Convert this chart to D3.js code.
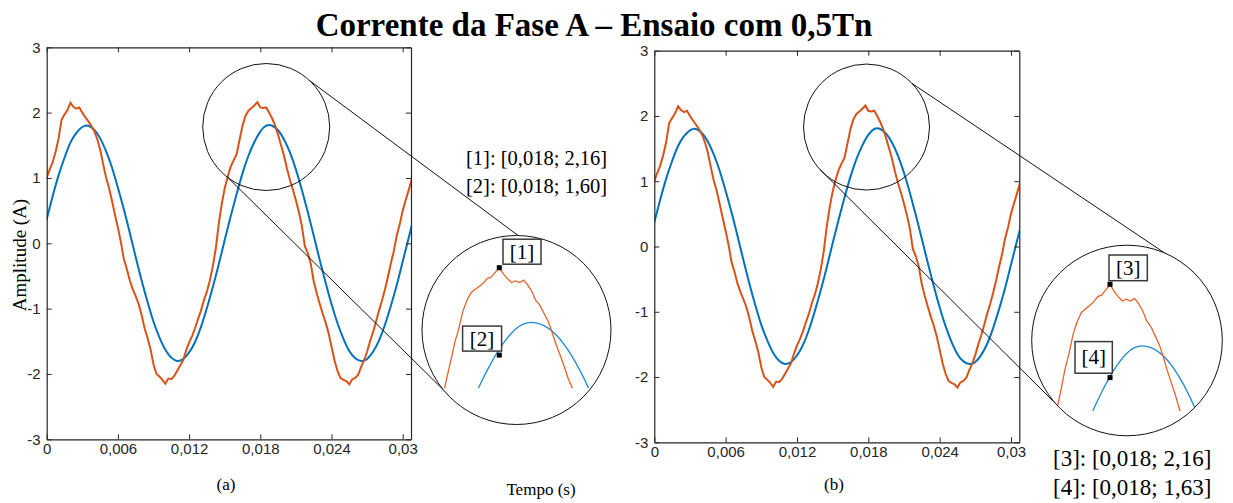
<!DOCTYPE html>
<html lang="pt">
<head>
<meta charset="UTF-8">
<title>Corrente da Fase A</title>
<script src="https://cdn.jsdelivr.net/npm/d3@7"></script>
<style>
  body { margin: 0; background: #fff; }
  svg { display: block; }
  .tick text { font-family: "Liberation Sans", Arial, sans-serif; font-size: 15px; fill: #262626; }
  .tick line, .domain { stroke: #262626; }
  .serif { font-family: "Liberation Serif", "Times New Roman", serif; fill: #000; }
</style>
</head>
<body>
<svg id="chart" width="1233" height="503"></svg>
<script>
// scope samples, time in ms
const orangeStepMs = 0.25;
const orangeA = [
  1.00, 1.13, 1.24, 1.40, 1.60, 1.89, 1.97, 2.04, 2.15, 2.09, 2.06, 2.08, 2.00, 1.93, 1.87, 1.80,
  1.72, 1.60, 1.44, 1.22, 1.01, 0.85, 0.65, 0.44, 0.24, 0.02, -0.24, -0.39, -0.57, -0.70, -0.81, -0.93,
  -1.10, -1.30, -1.45, -1.62, -1.85, -2.00, -2.04, -2.09, -2.15, -2.07, -2.08, -2.03, -1.95, -1.87, -1.79, -1.64,
  -1.52, -1.42, -1.30, -1.16, -1.03, -0.87, -0.74, -0.57, -0.35, -0.08, 0.30, 0.60, 0.84, 1.02, 1.17, 1.27,
  1.36, 1.58, 1.80, 1.95, 2.03, 2.07, 2.11, 2.16, 2.08, 2.07, 2.08, 2.00, 1.91, 1.80, 1.66, 1.50,
  1.34, 1.14, 0.97, 0.82, 0.66, 0.48, 0.27, -0.04, -0.15, -0.31, -0.58, -0.76, -0.92, -1.07, -1.21, -1.37,
  -1.58, -1.79, -1.95, -2.06, -2.09, -2.11, -2.16, -2.08, -2.06, -2.01, -1.89, -1.79, -1.66, -1.50, -1.36, -1.20,
  -1.03, -0.88, -0.71, -0.52, -0.31, -0.12, 0.12, 0.29, 0.50, 0.66, 0.81, 0.97, 1.10
];
const blueStepMs = 0.5;
const blueA = [
  0.37, 0.72, 1.04, 1.31, 1.54, 1.69, 1.78, 1.80, 1.74, 1.61, 1.41, 1.16, 0.85, 0.52, 0.16, -0.21,
  -0.57, -0.90, -1.20, -1.44, -1.63, -1.75, -1.80, -1.77, -1.67, -1.51, -1.28, -0.99, -0.67, -0.32, 0.05, 0.41,
  0.75, 1.07, 1.34, 1.55, 1.71, 1.80, 1.80, 1.73, 1.59, 1.39, 1.13, 0.82, 0.48, 0.12, -0.25, -0.60,
  -0.93, -1.22, -1.46, -1.65, -1.76, -1.80, -1.77, -1.66, -1.49, -1.25, -0.96, -0.64, -0.28, 0.08, 0.44
];
// finer reading of the orange peak, as seen in the zoomed circles
const orangeZoomStartMs = 16;
const orangeZoomStepMs = 0.125;
const orangeZoomA = [
  1.33, 1.45, 1.56, 1.68, 1.77, 1.88, 1.95, 2.00, 2.02, 2.04, 2.06, 2.09, 2.10, 2.13, 2.16, 2.12,
  2.09, 2.065, 2.075, 2.065, 2.08, 2.05, 2.01, 1.95, 1.92, 1.87, 1.82, 1.75, 1.67, 1.60, 1.53, 1.45,
  1.39, 1.32
];

const xTicks = [0, 6, 12, 18, 24, 30];
const xTickLabels = ["0", "0,006", "0,012", "0,018", "0,024", "0,03"];
const yTicks = [-3, -2, -1, 0, 1, 2, 3];
const yTickLabels = ["-3", "-2", "-1", "0", "1", "2", "3"];

const cursorTimes = [17.75, 17.75];
const cursorsA = [2.16, 1.60];
const cursorsB = [2.16, 1.63];
const cursorNamesA = ["[1]", "[2]"];
const cursorNamesB = ["[3]", "[4]"];
const cursorTextA = ["[1]: [0,018; 2,16]", "[2]: [0,018; 1,60]"];
const cursorTextB = ["[3]: [0,018; 2,16]", "[4]: [0,018; 1,63]"];

const orangeData = orangeA.map((v, i) => ({ t: i * orangeStepMs, v }));
const blueData = blueA.map((v, i) => ({ t: i * blueStepMs, v }));
const orangeZoomData = orangeZoomA.map((v, i) => ({ t: orangeZoomStartMs + i * orangeZoomStepMs, v }));

const ORANGE = "#D95319", BLUE = "#0072BD";
const svg = d3.select("#chart");

svg.append("text").attr("class", "serif")
  .attr("x", 594).attr("y", 36).attr("text-anchor", "middle")
  .attr("font-size", 33).attr("font-weight", "bold")
  .text("Corrente da Fase A \u2013 Ensaio com 0,5Tn");

svg.append("text").attr("class", "serif")
  .attr("transform", "translate(26,255) rotate(-90)")
  .attr("text-anchor", "middle").attr("font-size", 19)
  .text("Amplitude (A)");

svg.append("text").attr("class", "serif")
  .attr("x", 541).attr("y", 495).attr("text-anchor", "middle")
  .attr("font-size", 17).text("Tempo (s)");

const panels = [
  {
    id: "a", left: 46.7, right: 411, top: 47.3, bottom: 439.3, caption: "(a)", capX: 226,
    lens: { t: 18.5, v: 1.78, r: 63.5 },
    inset: { cx: 516.5, cy: 330, r: 94.5, xr: [442.6, 572.2], yr: [386.3, 267.7], clipY: 388.3 },
    links: [[-47, -89], [127, 141]],
    cursors: cursorsA, names: cursorNamesA, texts: cursorTextA,
    boxes: [[3.7, -28.5, 38, 25], [-36.7, -29, 39, 25]],
    textX: 466, textY: [165, 193], textSize: 20.5
  },
  {
    id: "b", left: 654.3, right: 1019.3, top: 50.7, bottom: 442.3, caption: "(b)", capX: 834,
    lens: { t: 17.85, v: 1.83, r: 63 },
    inset: { cx: 1127, cy: 340.5, r: 95.3, xr: [1052.8, 1183.6], yr: [418.1, 284.3], clipY: 411 },
    links: [[-44, -45.5], [137.5, 139]],
    cursors: cursorsB, names: cursorNamesB, texts: cursorTextB,
    boxes: [[-1, -29.3, 38.3, 25.7], [-35, -36, 37.3, 31.6]],
    textX: 1053, textY: [466, 495], textSize: 23
  }
];

panels.forEach(p => {
  const x = d3.scaleLinear().domain([0, 30.7]).range([p.left, p.right]);
  const y = d3.scaleLinear().domain([-3, 3]).range([p.bottom, p.top]);
  const g = svg.append("g");

  g.append("clipPath").attr("id", "plot-" + p.id)
    .append("rect").attr("x", p.left).attr("y", p.top)
    .attr("width", p.right - p.left).attr("height", p.bottom - p.top);

  const line = d3.line().x(d => x(d.t)).y(d => y(d.v));
  const curves = g.append("g").attr("clip-path", `url(#plot-${p.id})`);
  curves.append("path").datum(blueData).attr("d", line.curve(d3.curveNatural))
    .attr("fill", "none").attr("stroke", BLUE).attr("stroke-width", 2);
  curves.append("path").datum(orangeData).attr("d", line.curve(d3.curveLinear))
    .attr("fill", "none").attr("stroke", ORANGE).attr("stroke-width", 2);

  // axes with inward ticks, box on
  const fmtX = (d, i) => xTickLabels[i];
  const fmtY = (d, i) => yTickLabels[i];
  g.append("g").attr("transform", `translate(0,${p.bottom})`)
    .call(d3.axisBottom(x).tickValues(xTicks).tickFormat(fmtX).tickSizeInner(-5).tickSizeOuter(0).tickPadding(4));
  g.append("g").attr("transform", `translate(0,${p.top})`)
    .call(d3.axisTop(x).tickValues(xTicks).tickFormat("").tickSizeInner(-5).tickSizeOuter(0));
  g.append("g").attr("transform", `translate(${p.left},0)`)
    .call(d3.axisLeft(y).tickValues(yTicks).tickFormat(fmtY).tickSizeInner(-5).tickSizeOuter(0).tickPadding(6));
  g.append("g").attr("transform", `translate(${p.right},0)`)
    .call(d3.axisRight(y).tickValues(yTicks).tickFormat("").tickSizeInner(-5).tickSizeOuter(0));
  g.selectAll(".domain").attr("stroke-width", 1.2);
  g.selectAll(".tick line").attr("stroke-width", 1);

  g.append("text").attr("class", "serif").attr("x", p.capX).attr("y", 490)
    .attr("text-anchor", "middle").attr("font-size", 17).text(p.caption);

  // magnifier lens and links
  const lx = x(p.lens.t), ly = y(p.lens.v);
  const ins = p.inset;
  const rad = a => a * Math.PI / 180;
  p.links.forEach(([a1, a2]) => {
    g.append("line")
      .attr("x1", lx + p.lens.r * Math.cos(rad(a1))).attr("y1", ly + p.lens.r * Math.sin(rad(a1)))
      .attr("x2", ins.cx + ins.r * Math.cos(rad(a2))).attr("y2", ins.cy + ins.r * Math.sin(rad(a2)))
      .attr("stroke", "#111").attr("stroke-width", 1);
  });
  g.append("circle").attr("cx", lx).attr("cy", ly).attr("r", p.lens.r)
    .attr("fill", "none").attr("stroke", "#111").attr("stroke-width", 1);

  // zoomed inset
  const ix = d3.scaleLinear().domain([16, 20]).range(ins.xr);
  const iy = d3.scaleLinear().domain([1.4, 2.16]).range(ins.yr);
  g.append("clipPath").attr("id", "lens-" + p.id)
    .append("circle").attr("cx", ins.cx).attr("cy", ins.cy).attr("r", ins.r);
  g.append("clipPath").attr("id", "cut-" + p.id)
    .append("rect").attr("x", ins.cx - ins.r).attr("y", ins.cy - ins.r)
    .attr("width", 2 * ins.r).attr("height", ins.clipY - (ins.cy - ins.r));
  g.append("circle").attr("cx", ins.cx).attr("cy", ins.cy).attr("r", ins.r).attr("fill", "#fff");
  const zoomG = g.append("g").attr("clip-path", `url(#lens-${p.id})`)
    .append("g").attr("clip-path", `url(#cut-${p.id})`);
  const iline = d3.line().x(d => ix(d.t)).y(d => iy(d.v));
  zoomG.append("path").datum(blueData).attr("d", iline.curve(d3.curveNatural))
    .attr("fill", "none").attr("stroke", "#1f8ad6").attr("stroke-width", 1.3);
  zoomG.append("path").datum(orangeZoomData).attr("d", iline.curve(d3.curveLinear))
    .attr("fill", "none").attr("stroke", "#e8622a").attr("stroke-width", 1.3);
  g.append("circle").attr("cx", ins.cx).attr("cy", ins.cy).attr("r", ins.r)
    .attr("fill", "none").attr("stroke", "#111").attr("stroke-width", 1);

  // data cursors
  p.cursors.forEach((v, i) => {
    const mx = ix(cursorTimes[i]), my = iy(v);
    const [bx, by, bw, bh] = p.boxes[i];
    g.append("rect").attr("x", mx + bx).attr("y", my + by).attr("width", bw).attr("height", bh)
      .attr("fill", "#fff").attr("stroke", "#3a3a3a").attr("stroke-width", 1.5);
    g.append("text").attr("class", "serif").attr("x", mx + bx + bw / 2).attr("y", my + by + bh / 2 + 7)
      .attr("text-anchor", "middle").attr("font-size", 21).attr("fill", "#222").text(p.names[i]);
    g.append("rect").attr("x", mx - 2.5).attr("y", my - 2.5).attr("width", 5).attr("height", 5).attr("fill", "#000");
    g.append("text").attr("class", "serif").attr("x", p.textX).attr("y", p.textY[i])
      .attr("font-size", p.textSize).text(p.texts[i]);
  });
});
</script>
</body>
</html>
